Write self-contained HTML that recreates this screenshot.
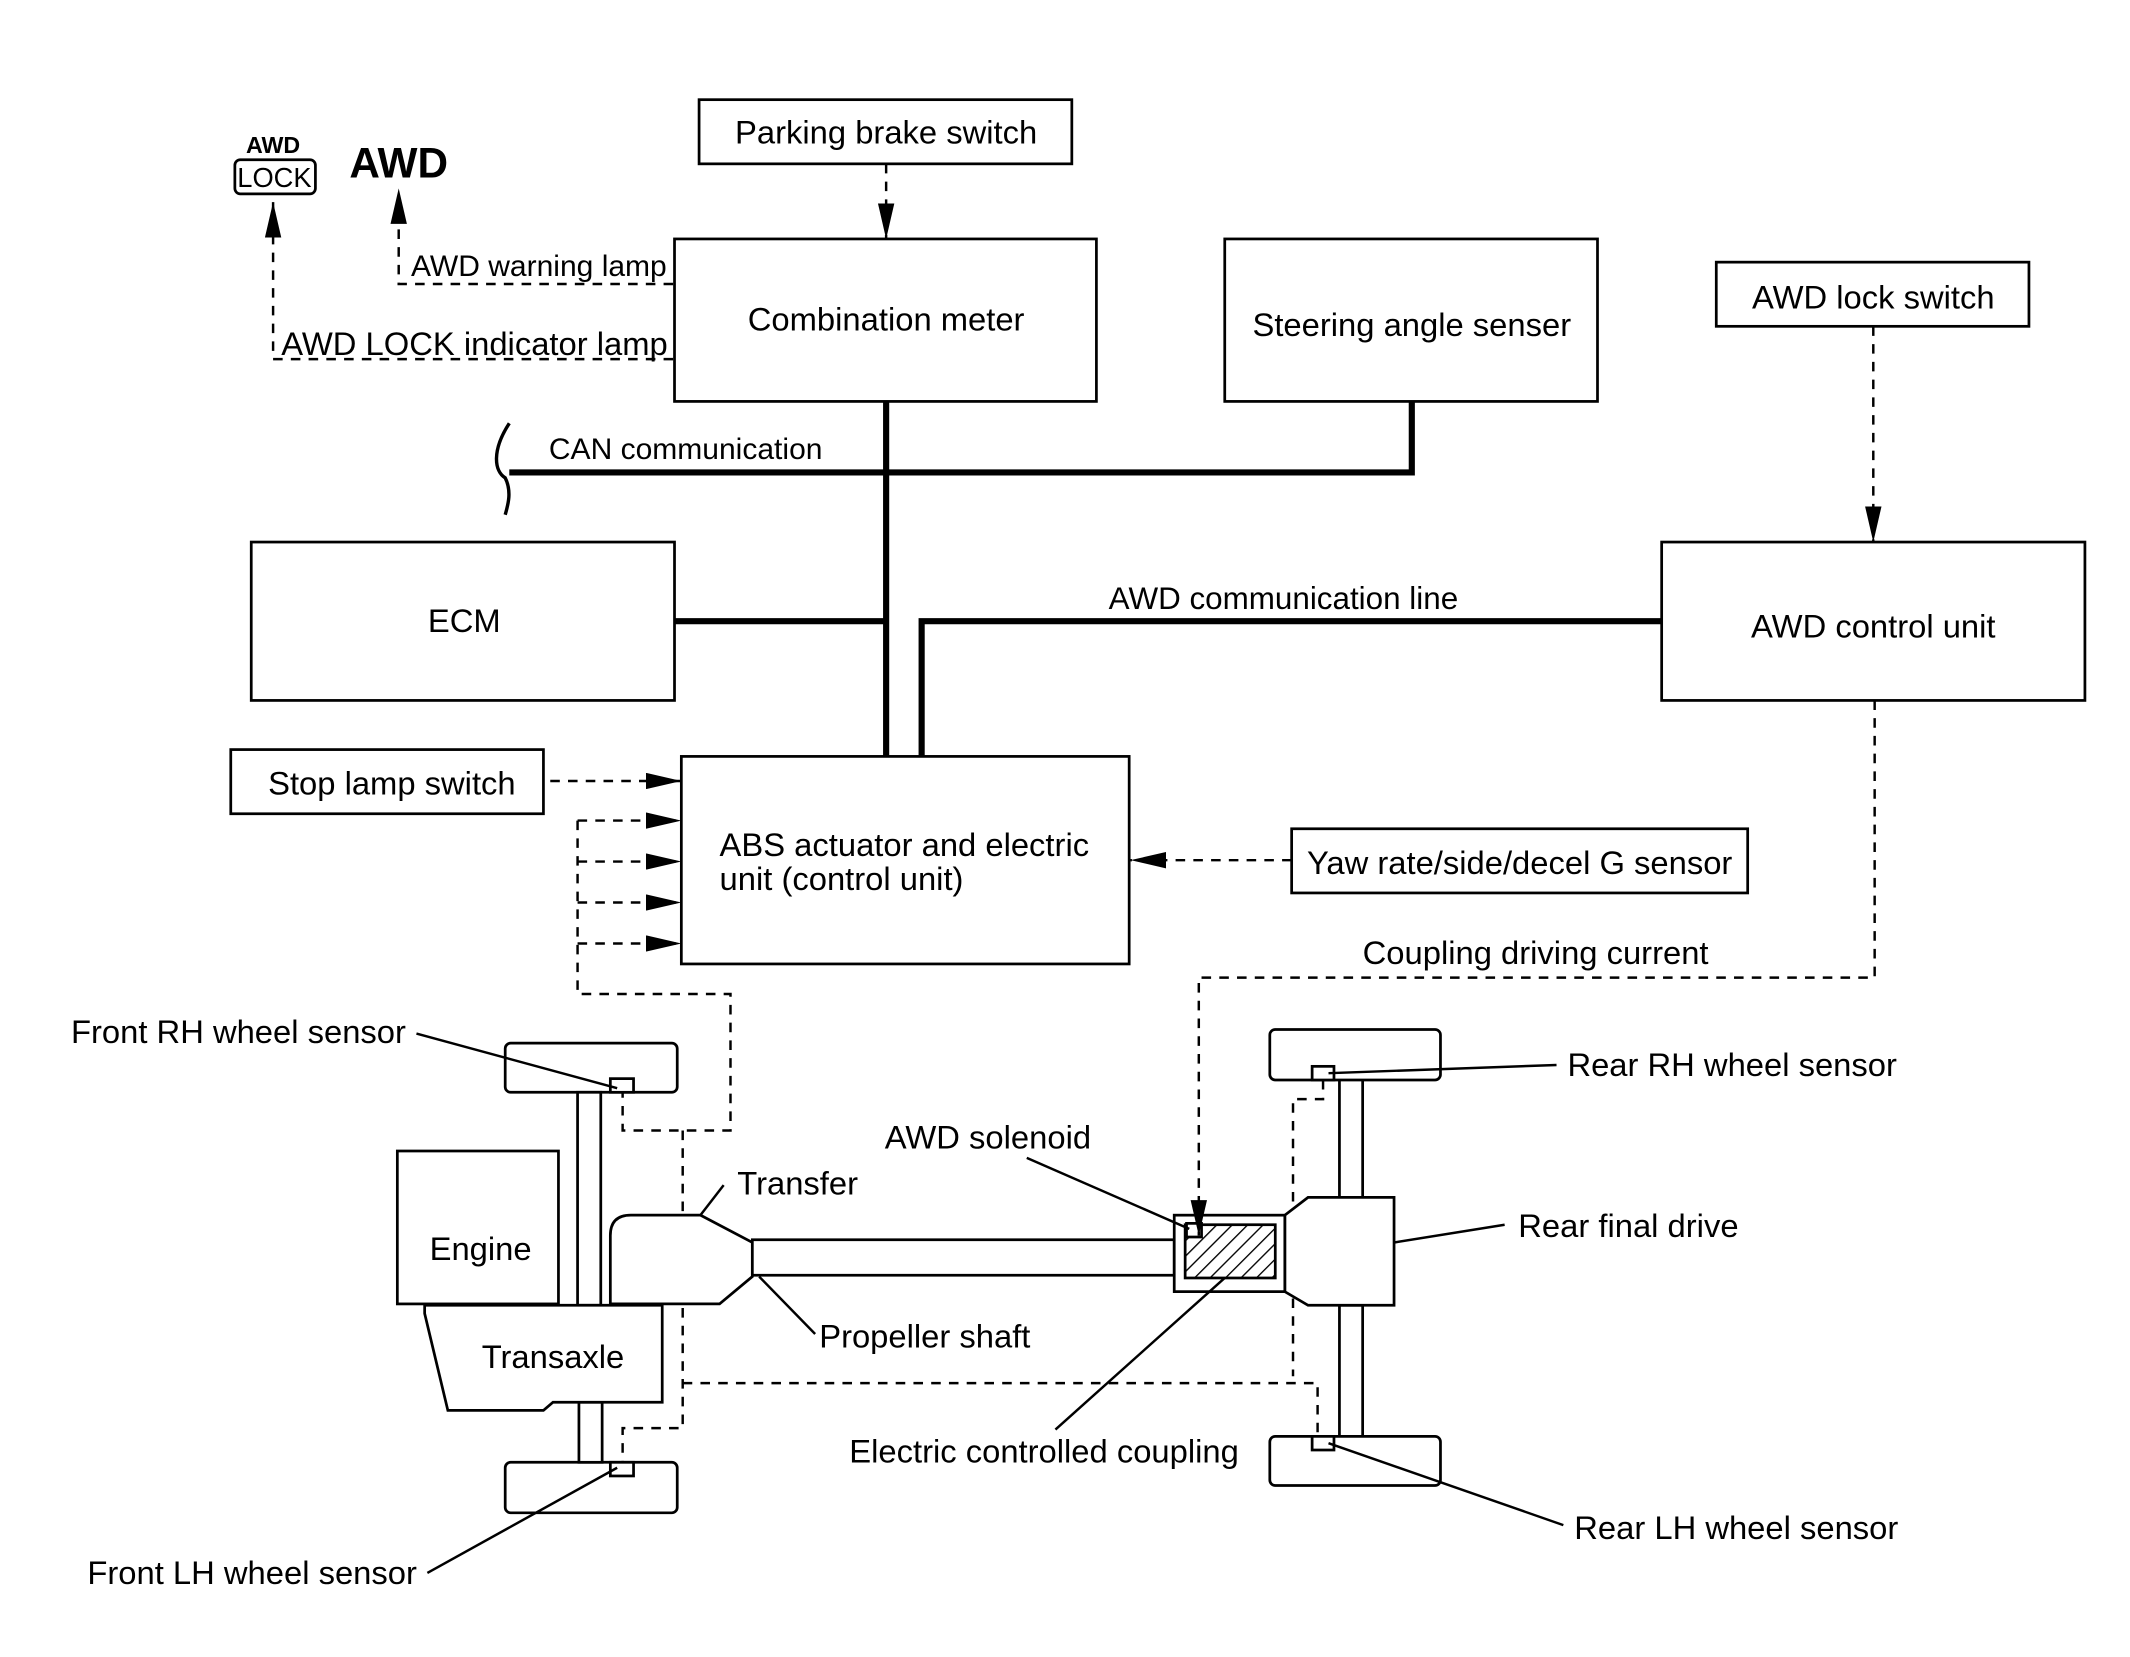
<!DOCTYPE html>
<html><head><meta charset="utf-8"><style>html,body{margin:0;padding:0;background:#fff}svg{display:block}</style></head>
<body>
<svg width="2130" height="1657" viewBox="0 0 1560 1213.6" xmlns="http://www.w3.org/2000/svg" font-family="Liberation Sans, Arial, sans-serif" font-size="24">
<defs>
<marker id="ahL" viewBox="0 0 10 10" refX="10" refY="5" markerWidth="26" markerHeight="12" markerUnits="userSpaceOnUse" orient="auto" preserveAspectRatio="none"><path d="M0,0 L10,5 L0,10 z" fill="#000"/></marker>
<pattern id="hatch" width="8" height="8" patternUnits="userSpaceOnUse" patternTransform="rotate(45)"><line x1="0" y1="0" x2="0" y2="8" stroke="#000" stroke-width="2"/></pattern>
</defs>
<rect width="1560" height="1214" fill="#fff"/>
<g fill="none" stroke="#000" stroke-width="2">
<rect x="512" y="73" width="273" height="47"/>
<rect x="494" y="175" width="309" height="119"/>
<rect x="897" y="175" width="273" height="119"/>
<rect x="1257" y="192" width="229" height="47"/>
<rect x="184" y="397" width="310" height="116"/>
<rect x="1217" y="397" width="310" height="116"/>
<rect x="169" y="549" width="229" height="47"/>
<rect x="499" y="554" width="328" height="152"/>
<rect x="946" y="607" width="334" height="47"/>
<rect x="172" y="117" width="59" height="25" rx="4"/>
</g>
<g fill="none" stroke="#000" stroke-width="4.5">
<path d="M373,346 H1034 V294"/>
<path d="M649,294 V554"/>
<path d="M494,455 H649"/>
<path d="M675,554 V455 H1217"/>
</g>
<path d="M373,310 C360,330 362,345 370,350 C375,360 372,370 370,377" fill="none" stroke="#000" stroke-width="2.5"/>
<g fill="none" stroke="#000" stroke-width="1.8" stroke-dasharray="7,6">
<path d="M649,120 V175" marker-end="url(#ahL)"/>
<path d="M1372,239 V397" marker-end="url(#ahL)"/>
<path d="M493,208 H292 V138" marker-end="url(#ahL)"/>
<path d="M493,263 H200 V148" marker-end="url(#ahL)"/>
<path d="M403,572 H499" marker-end="url(#ahL)"/>
<path d="M423,601 H499" marker-end="url(#ahL)"/>
<path d="M423,631 H499" marker-end="url(#ahL)"/>
<path d="M423,661 H499" marker-end="url(#ahL)"/>
<path d="M423,691 H499" marker-end="url(#ahL)"/>
<path d="M423,601 V728 H535 V828 H456 V800"/>
<path d="M946,630 H828" marker-end="url(#ahL)"/>
<path d="M500,828 V1046 H456 V1071"/>
<path d="M500,1013 H965 V1052"/>
<path d="M969,791 V805 H947 V1008"/>
</g>
<g fill="#fff" stroke="#000" stroke-width="2">
<rect x="370" y="764" width="126" height="36" rx="4"/>
<rect x="370" y="1071" width="126" height="37" rx="4"/>
<rect x="423" y="800" width="17" height="156"/>
<rect x="424" y="1027" width="17" height="44"/>
<rect x="447" y="790" width="17" height="10"/>
<rect x="447" y="1071" width="17" height="10"/>
<rect x="291" y="843" width="118" height="112"/>
<path d="M311,956 H485 V1027 H405 L398,1033 H328 L311,962 Z"/>
<path d="M447,955 V905 Q447,890 462,890 H513 L551,910 V935 L527,955 Z"/>
<rect x="551" y="908" width="309" height="26"/>
<rect x="981" y="790" width="17" height="87"/>
<rect x="981" y="956" width="17" height="96"/>
<rect x="930" y="754" width="125" height="37" rx="4"/>
<rect x="930" y="1052" width="125" height="36" rx="4"/>
<rect x="961" y="781" width="16" height="10"/>
<rect x="961" y="1052" width="16" height="10"/>
<path d="M941,890 L958,877 H1021 V956 H958 L941,946 Z"/>
<rect x="860" y="890" width="81" height="56"/>
<rect x="868" y="897" width="66" height="39" fill="url(#hatch)"/>
<rect x="869" y="896" width="11" height="10"/>
</g>
<path d="M1373,513 V716 H878 V905" fill="none" stroke="#000" stroke-width="1.8" stroke-dasharray="7,6" marker-end="url(#ahL)"/>
<g stroke="#000" stroke-width="1.8" fill="none">
<path d="M305,757 L452,797"/>
<path d="M313,1152 L452,1075"/>
<path d="M530,868 L513,890"/>
<path d="M556,935 L597,977"/>
<path d="M752,848 L871,900"/>
<path d="M773,1047 L897,936"/>
<path d="M973,786 L1140,780"/>
<path d="M1021,910 L1102,897"/>
<path d="M973,1057 L1145,1117"/>
</g>
<g fill="#000">
<text x="649" y="105" text-anchor="middle">Parking brake switch</text>
<text x="649" y="242" text-anchor="middle">Combination meter</text>
<text x="1034" y="246" text-anchor="middle">Steering angle senser</text>
<text x="1372" y="226" text-anchor="middle">AWD lock switch</text>
<text x="340" y="463" text-anchor="middle">ECM</text>
<text x="1372" y="467" text-anchor="middle">AWD control unit</text>
<text x="287" y="582" text-anchor="middle">Stop lamp switch</text>
<text x="527" y="627">ABS actuator and electric</text>
<text x="527" y="652">unit (control unit)</text>
<text x="1113" y="640" text-anchor="middle">Yaw rate/side/decel G sensor</text>
<text x="402" y="336" font-size="22">CAN communication</text>
<text x="812" y="446" font-size="23">AWD communication line</text>
<text x="998" y="706">Coupling driving current</text>
<text x="301" y="202" font-size="22">AWD warning lamp</text>
<text x="206" y="260">AWD LOCK indicator lamp</text>
<text x="200" y="112" text-anchor="middle" font-size="17" font-weight="bold" font-family="Liberation Sans Narrow, Liberation Sans, sans-serif">AWD</text>
<text x="201" y="137" text-anchor="middle" font-size="20" font-family="Liberation Sans Narrow, Liberation Sans, sans-serif">LOCK</text>
<text x="292" y="130" text-anchor="middle" font-size="31" font-weight="bold" font-family="Liberation Sans Narrow, Liberation Sans, sans-serif">AWD</text>
<text x="52" y="764">Front RH wheel sensor</text>
<text x="64" y="1160">Front LH wheel sensor</text>
<text x="352" y="923" text-anchor="middle">Engine</text>
<text x="405" y="1002" text-anchor="middle">Transaxle</text>
<text x="540" y="875">Transfer</text>
<text x="600" y="987">Propeller shaft</text>
<text x="648" y="841">AWD solenoid</text>
<text x="622" y="1071">Electric controlled coupling</text>
<text x="1148" y="788">Rear RH wheel sensor</text>
<text x="1112" y="906">Rear final drive</text>
<text x="1153" y="1127">Rear LH wheel sensor</text>
</g>
</svg>
</body></html>
